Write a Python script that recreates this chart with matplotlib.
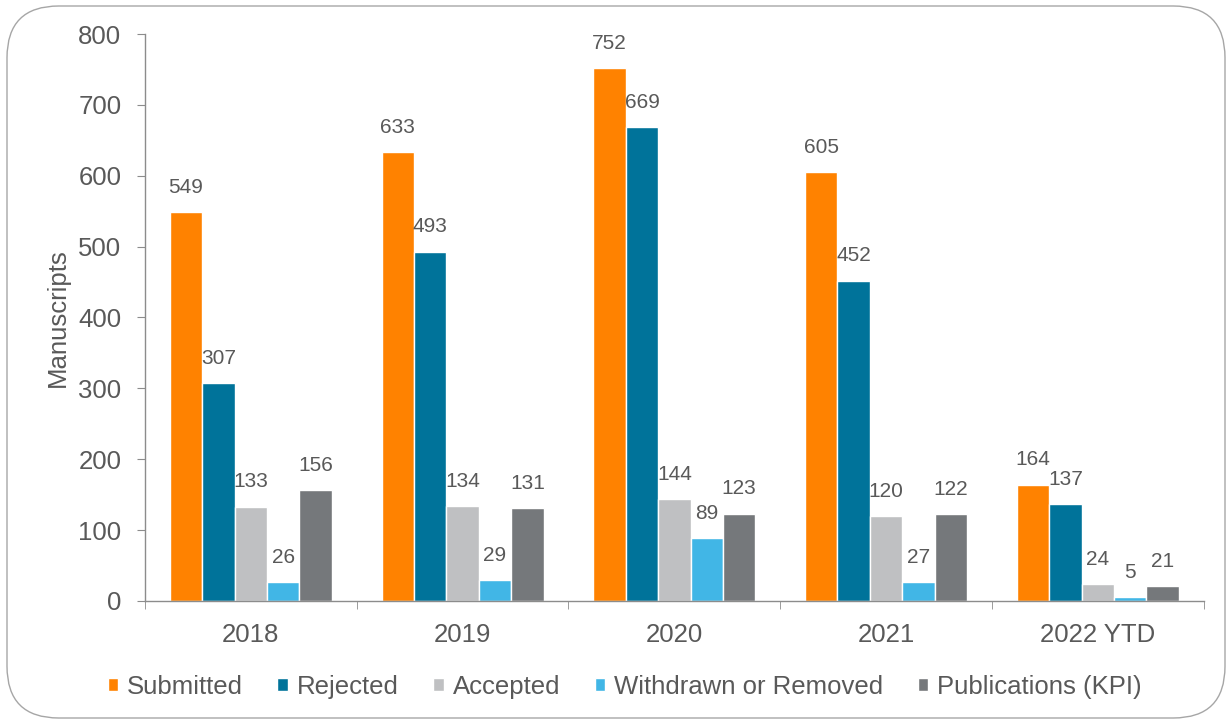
import numpy as np
import matplotlib
matplotlib.use("Agg")
from matplotlib import pyplot as plt
from matplotlib.patches import FancyBboxPatch

plt.rcParams['font.family'] = ['Liberation Sans', 'DejaVu Sans']

# data
years = ["2018", "2019", "2020", "2021", "2022 YTD"]
series = ["Submitted", "Rejected", "Accepted", "Withdrawn or Removed", "Publications (KPI)"]
submitted = [549, 633, 752, 605, 164]
rejected = [307, 493, 669, 452, 137]
accepted = [133, 134, 144, 120, 24]
withdrawn = [26, 29, 89, 27, 5]
publications = [156, 131, 123, 122, 21]
values = [submitted, rejected, accepted, withdrawn, publications]
colors = ["#FF8200", "#00739A", "#BFC0C2", "#41B6E6", "#75787B"]

text_col = "#595959"
axis_col = "#8C8C8C"

fig = plt.figure(figsize=(12.32, 7.24), dpi=100)
ax = fig.add_axes([0.1177, 0.170, 0.8593, 0.783])

# rounded frame around the whole chart
frame = FancyBboxPatch((7 / 1232, 6 / 724), 1218 / 1232, 712 / 724,
                       boxstyle="round,pad=0,rounding_size=0.042",
                       transform=fig.transFigure, facecolor="none",
                       edgecolor="#A6A6A6", linewidth=1.0,
                       mutation_aspect=1232 / 724)
fig.patches.append(frame)

x = np.arange(len(years))
w = 0.153
for i, (name, vals, c) in enumerate(zip(series, values, colors)):
    pos = x + (i - 2) * w
    bars = ax.bar(pos, vals, width=w, color=c, edgecolor="white",
                  linewidth=1.0, label=name)
    for b, v in zip(bars, vals):
        ax.annotate(str(v), (b.get_x() + b.get_width() / 2, v),
                    xytext=(0, 11), textcoords="offset points",
                    ha="center", va="bottom", fontsize=15, color=text_col)

ax.set_xlim(-0.5, len(years) - 0.5)
ax.set_ylim(0, 800)
ax.set_yticks(range(0, 801, 100))
ax.set_xticks(x)
ax.set_xticklabels(years)
ax.set_xticks(np.arange(-0.5, len(years), 1), minor=True)

for s in ["top", "right"]:
    ax.spines[s].set_visible(False)
for s in ["left", "bottom"]:
    ax.spines[s].set_color(axis_col)
    ax.spines[s].set_linewidth(1.0)

ax.tick_params(axis="y", direction="out", length=6, color=axis_col,
               labelsize=18.5, labelcolor=text_col, pad=11)
ax.tick_params(axis="x", which="major", length=0, labelsize=18.5,
               labelcolor=text_col, pad=16)
ax.tick_params(axis="x", which="minor", direction="out", length=6,
               color=axis_col)

ax.set_ylabel("Manuscripts", fontsize=18.5, color=text_col, labelpad=6)

leg = fig.legend(loc="center", bbox_to_anchor=(0.507, 0.051), ncol=5,
                 frameon=False, fontsize=18.5, handlelength=0.4,
                 handleheight=0.4, handletextpad=0.35, columnspacing=1.35)
for t in leg.get_texts():
    t.set_color(text_col)

fig.savefig("out.png", dpi=100, facecolor="white")
